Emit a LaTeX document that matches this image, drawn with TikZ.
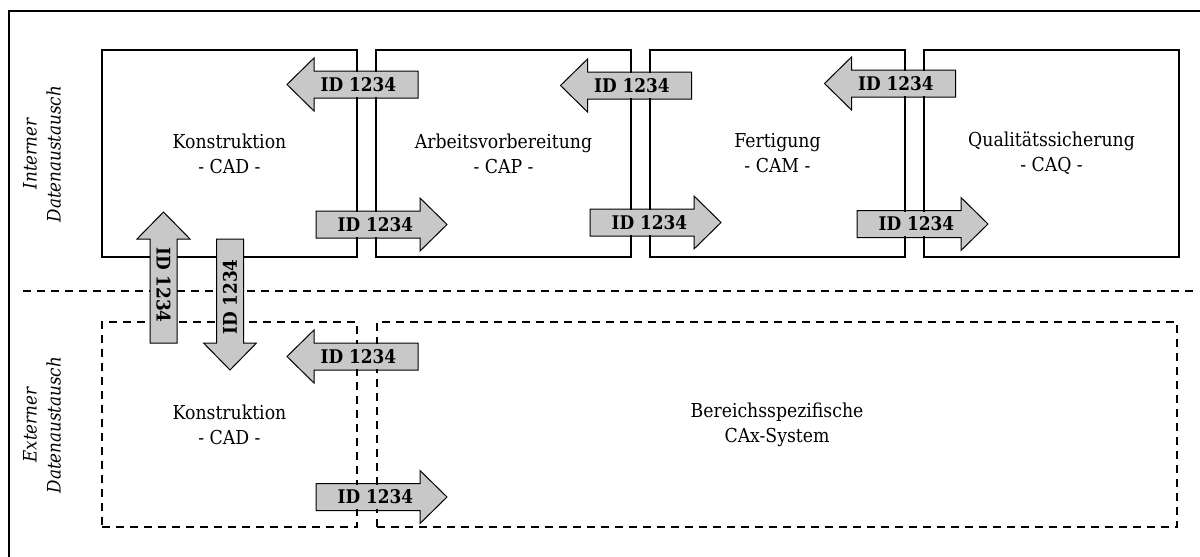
\documentclass[tikz,border=0pt]{standalone}
\usepackage{fontspec}
\setmainfont{DejaVu Serif Condensed}
\definecolor{arrowgray}{RGB}{200,200,200}
\begin{document}
\begin{tikzpicture}[x=0.5pt,y=0.5pt,
  frameline/.style={line width=1pt},
  procbox/.style={draw, line width=1pt, minimum width=127.5pt, minimum height=103.5pt,
    align=center, inner sep=0pt, font=\fontsize{9.6}{12.5}\selectfont},
  extbox/.style={procbox, dash pattern=on 4pt off 3pt, minimum height=102.5pt},
  sidelabel/.style={font=\fontsize{9.3}{12}\selectfont\itshape, align=center, rotate=90, inner sep=0pt},
  idtext/.style={font=\fontsize{9.4}{11}\selectfont\bfseries, fill=arrowgray,
    inner xsep=1.5pt, inner ysep=2.5pt},
  arrowbody/.style={draw=black, line width=0.5pt, fill=arrowgray, line join=miter},
  separator/.style={line width=1pt, dash pattern=on 4pt off 3pt},
  pics/fatarrow/.style={code={
    \filldraw[arrowbody] (-65.5,-13.5) -- (38.5,-13.5) -- (38.5,-26.5) -- (65.5,0)
      -- (38.5,26.5) -- (38.5,13.5) -- (-65.5,13.5) -- cycle;
  }},
]
\useasboundingbox (0,0) rectangle (1200,-557);

% outer frame (runs past the page on the right and bottom)
\coordinate (frameBL) at (9,-620);
\coordinate (frameTL) at (9,-11);
\coordinate (frameTR) at (1260,-11);
\draw[frameline] (frameBL) -- (frameTL) -- (frameTR);

% horizontal block arrows (the box outlines are drawn over them)
\pic[rotate=180] at (352.5,-84.5) {fatarrow};
\pic[rotate=180] at (626,-85.5) {fatarrow};
\pic[rotate=180] at (890,-83.5) {fatarrow};
\pic at (381.5,-224.5) {fatarrow};
\pic at (655.5,-222.5) {fatarrow};
\pic at (922.5,-224) {fatarrow};
\pic[rotate=180] at (352.5,-356.5) {fatarrow};
\pic at (381.5,-497) {fatarrow};

% internal process boxes
\node[procbox] (cad) at (229.5,-153.5) {Konstruktion\\- CAD -};
\node[procbox] (cap) at (503.5,-153.5) {Arbeitsvorbereitung\\- CAP -};
\node[procbox] (cam) at (777.5,-153.5) {Fertigung\\- CAM -};
\node[procbox] (caq) at (1051.5,-153.5) {Qualitätssicherung\\- CAQ -};

% external boxes
\node[extbox] (extcad) at (229.5,-424.5) {Konstruktion\\- CAD -};
\node[extbox, minimum width=400pt] (cax) at (777,-424.5) {Bereichsspezifische\\CAx-System};

% separator between internal and external exchange
\coordinate (sepL) at (23,-290.5);
\coordinate (sepR) at (1195,-290.5);
\draw[separator] (sepL) -- (sepR);

% vertical block arrows lie on top of the lines
\pic[rotate=90] at (163.5,-277.5) {fatarrow};
\pic[rotate=-90] at (230,-304.5) {fatarrow};

% side labels
\node[sidelabel] (intlabel) at (42,-154) {Interner\\Datenaustausch};
\node[sidelabel] (extlabel) at (42,-425) {Externer\\Datenaustausch};

% arrow labels
\node[idtext] (id1) at (358.5,-84.5) {ID 1234};
\node[idtext] (id2) at (632,-85.5) {ID 1234};
\node[idtext] (id3) at (896,-83.5) {ID 1234};
\node[idtext] (id4) at (375.5,-224.5) {ID 1234};
\node[idtext] (id5) at (649.5,-222.5) {ID 1234};
\node[idtext] (id6) at (916.5,-224) {ID 1234};
\node[idtext, rotate=-90] (id7) at (163.5,-285) {ID 1234};
\node[idtext, rotate=90] (id8) at (230,-297) {ID 1234};
\node[idtext] (id9) at (358.5,-356.5) {ID 1234};
\node[idtext] (id10) at (375.5,-497) {ID 1234};
\end{tikzpicture}
\end{document}
